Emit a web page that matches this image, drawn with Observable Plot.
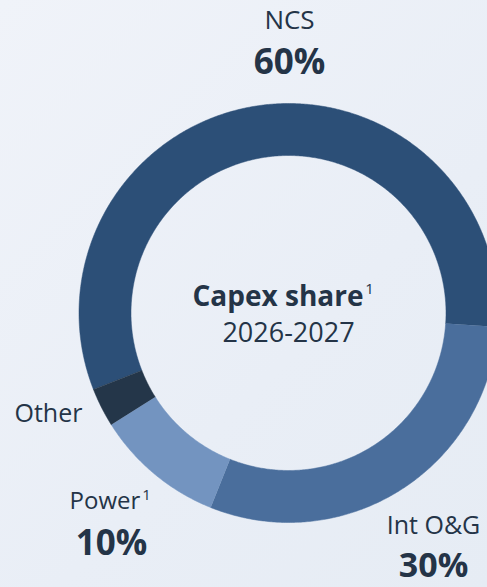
<!DOCTYPE html>
<html>
<head>
<meta charset="utf-8">
<script src="https://cdn.jsdelivr.net/npm/d3@7"></script>
<script src="https://cdn.jsdelivr.net/npm/@observablehq/plot@0.6"></script>
<style>
  html, body { margin: 0; padding: 0; width: 487px; height: 587px; overflow: hidden;
    background: linear-gradient(135deg, #f0f3f9 0%, #e9eef6 60%, #e6ecf4 100%); }
  #chart svg { display: block; background: transparent; }
</style>
</head>
<body>
<div id="chart"></div>
<script>
// Data
const categories = ["NCS", "Int O&G", "Power", "Other"];
const shares = [57, 30, 10, 3];
const labelNames = ["NCS", "Int O&G", "Power", "Other"];
const labelValues = ["60%", "30%", "10%", ""];
const colors = ["#2c4f77", "#4a6e9c", "#7394c0", "#243649"];

// Layout (not data)
const W = 487, H = 587;
const cx = 288, cy = 312.5, R = 209.5, rInner = 157.5;
const startAngle = -111.4 * Math.PI / 180;
const k = rInner / R;

// Pie layout via d3, in unit coordinates
const pie = d3.pie().sort(null).value(d => d.value).startAngle(startAngle).endAngle(startAngle + 2 * Math.PI);
const slices = pie(categories.map((c, i) => ({ category: c, value: shares[i] })));
const poly = [];
for (const s of slices) {
  const n = Math.max(8, Math.ceil((s.endAngle - s.startAngle) * 120));
  for (let j = 0; j <= n; j++) {
    const a = s.startAngle + (s.endAngle - s.startAngle) * j / n;
    poly.push({ category: s.data.category, x: Math.sin(a), y: Math.cos(a) });
  }
  for (let j = n; j >= 0; j--) {
    const a = s.startAngle + (s.endAngle - s.startAngle) * j / n;
    poly.push({ category: s.data.category, x: k * Math.sin(a), y: k * Math.cos(a) });
  }
}

const xDom = [-cx / R, (W - cx) / R];
const yDom = [-(H - cy) / R, cy / R];
const px = v => (v - cx) / R;   // pixel → unit
const py = v => (cy - v) / R;

const font = "'Open Sans', sans-serif";
const ink = "#243447";

const labels = [
  { text: labelNames[0], x: px(289), y: py(20), size: 26, weight: 400, anchor: "middle" },
  { text: labelValues[0], x: px(289), y: py(62), size: 35, weight: 700, anchor: "middle" },
  { text: labelNames[3], x: px(14), y: py(413), size: 25, weight: 400, anchor: "start" },
  { text: labelNames[2], x: px(69), y: py(501), size: 24, weight: 400, anchor: "start" },
  { text: labelValues[2], x: px(111), y: py(543), size: 35, weight: 700, anchor: "middle" },
  { text: labelNames[1], x: px(433), y: py(525), size: 25, weight: 400, anchor: "middle" },
  { text: labelValues[1], x: px(433), y: py(566), size: 34, weight: 700, anchor: "middle" },
  { text: "2026-2027", x: px(288), y: py(333), size: 27, weight: 400, anchor: "middle" },
  { text: "Capex share", x: px(192), y: py(297), size: 28, weight: 700, anchor: "start" }
];
const sups = [
  { text: "1", x: px(146), y: py(495), size: 15 },
  { text: "1", x: px(369), y: py(289), size: 15 }
];

const plot = Plot.plot({
  width: W, height: H,
  margin: 0,
  x: { domain: xDom, axis: null },
  y: { domain: yDom, axis: null },
  color: { domain: categories, range: colors },
  style: { background: "transparent", fontFamily: font, overflow: "hidden" },
  marks: [
    Plot.line(poly, { x: "x", y: "y", z: "category", fill: "category", stroke: "category", strokeWidth: 0.5, curve: "linear" }),
    ...labels.map(l => Plot.text([l], { x: "x", y: "y", text: "text", fontSize: l.size, fontWeight: l.weight, textAnchor: l.anchor, fill: ink, fontFamily: font })),
    ...sups.map(s => Plot.text([s], { x: "x", y: "y", text: "text", fontSize: s.size, fill: ink, fontFamily: font }))
  ]
});
document.getElementById("chart").appendChild(plot);
</script>
</body>
</html>
